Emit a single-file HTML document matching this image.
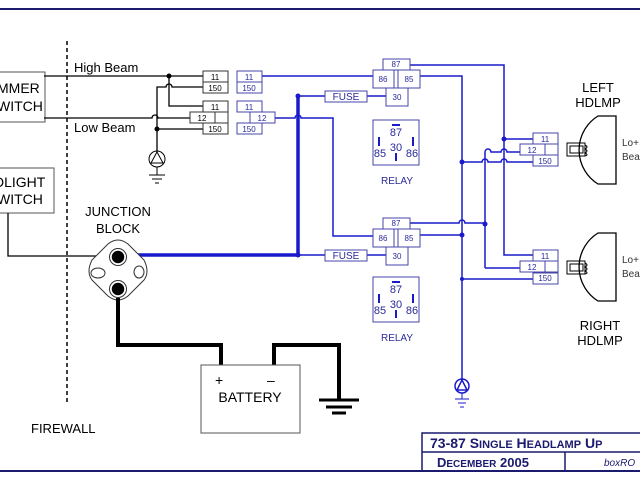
<!DOCTYPE html>
<html><head><style>
body{margin:0;background:#fff;width:640px;height:480px;overflow:hidden}
svg{display:block}
text{font-family:"Liberation Sans",sans-serif}
</style></head><body>
<svg width="640" height="480" viewBox="0 0 640 480" xmlns="http://www.w3.org/2000/svg">
<line x1="0" y1="9" x2="640" y2="9" stroke="#1a1a6e" stroke-width="2"/>
<line x1="0" y1="471" x2="640" y2="471" stroke="#1a1a6e" stroke-width="2"/>
<!-- firewall -->
<line x1="67" y1="41" x2="67" y2="402" stroke="#000" stroke-width="1.5" stroke-dasharray="4,3"/>
<text x="31" y="433" font-size="13">FIREWALL</text>
<!-- switches -->
<rect x="-10" y="72" width="55" height="50" fill="#fff" stroke="#555"/>
<text x="-3" y="93" font-size="14">MMER</text>
<text x="-3" y="111" font-size="14">WITCH</text>
<rect x="-10" y="168" width="64" height="45" fill="#fff" stroke="#555"/>
<text x="-6" y="187" font-size="14">DLIGHT</text>
<text x="-3" y="204" font-size="14">WITCH</text>
<g fill="none" stroke="#000" stroke-width="1.3">
<path d="M8 213 V256 H100"/>
<path d="M44 76 H203"/>
<path d="M44 118 H152 a3 3 0 0 1 6 0 H190"/>
<path d="M169 76 V106 H203"/>
<path d="M203 87 H172 a3 3 0 0 0 -6 0 H157 V152"/>
<path d="M157 129 H203"/>
</g>
<circle cx="169" cy="76" r="2.5"/><circle cx="157" cy="129" r="2.5"/>
<g fill="none" stroke="#000" stroke-width="1">
<circle cx="157" cy="159" r="8"/><path d="M157 152 L151 163 H163 Z"/>
<path d="M157 167 V175 M149 175 H165 M152 179 H162 M155 183 H159"/>
</g>
<text x="74" y="72" font-size="13">High Beam</text>
<text x="74" y="132" font-size="13">Low Beam</text>
<!-- black connectors -->
<g fill="#fff" stroke="#333" stroke-width="1">
<rect x="203" y="71" width="25" height="11"/><rect x="203" y="82" width="25" height="11"/>
<rect x="203" y="101" width="25" height="11"/><rect x="190" y="112" width="38" height="11"/>
<rect x="203" y="123" width="25" height="11"/><line x1="215" y1="112" x2="215" y2="123"/>
</g>
<g font-size="8" text-anchor="middle">
<text x="215" y="80">11</text><text x="215" y="91">150</text><text x="215" y="110">11</text>
<text x="202" y="121">12</text><text x="215" y="132">150</text>
</g>
<!-- blue -->
<g fill="none" stroke="#1a1acc" stroke-width="1.5">
<path d="M262 76 H373"/>
<path d="M275 118 H295 a3 3 0 0 1 6 0 H333 V236 H373"/>
<path d="M298 96 H325 M367 96 H386"/>
<path d="M298 255 H325 M367 255 H386"/>
<path d="M410 65 H504 V255 H533"/>
<path d="M420 76 H462 V380"/>
<path d="M410 223 H459 a3 3 0 0 1 6 0 H485"/>
<path d="M420 235 H462"/>
<path d="M485 268 V152 a3 3 0 0 1 6 0 H501 a3 3 0 0 1 6 0 H520"/>
<path d="M485 268 H520"/>
<path d="M504 139 H533"/>
<path d="M462 162 H482 a3 3 0 0 1 6 0 H501 a3 3 0 0 1 6 0 H533"/>
<path d="M462 279 H533"/>
<circle cx="462" cy="386" r="7"/><path d="M462 380 L457 390 H467 Z"/>
<path d="M462 393 V399 M455 399 H469 M458 403 H466 M460 407 H464" stroke-width="1"/>
</g>
<g stroke="#1a1acc" stroke-width="3.5" fill="none"><path d="M137 255 H298 V96"/></g>
<g fill="#1a1acc"><circle cx="298" cy="96" r="2.5"/><circle cx="298" cy="255" r="2.5"/>
<circle cx="504" cy="139" r="2.5"/><circle cx="462" cy="162" r="2.5"/><circle cx="485" cy="224" r="2.5"/>
<circle cx="462" cy="235" r="2.5"/><circle cx="462" cy="279" r="2"/></g>
<g fill="#fff" stroke="#4444aa" stroke-width="1">
<rect x="237" y="71" width="25" height="11"/><rect x="237" y="82" width="25" height="11"/>
<rect x="237" y="101" width="25" height="11"/><rect x="250" y="112" width="25" height="11"/>
<rect x="237" y="123" width="25" height="11"/><line x1="250" y1="112" x2="250" y2="123"/>
<rect x="325" y="91" width="42" height="11"/><rect x="325" y="250" width="42" height="11"/>
<rect x="383" y="59" width="27" height="11"/><rect x="373" y="70" width="21" height="18"/><rect x="398" y="70" width="22" height="18"/><rect x="386" y="88" width="22" height="18"/>
<rect x="383" y="218" width="27" height="11"/><rect x="373" y="229" width="21" height="18"/><rect x="398" y="229" width="22" height="18"/><rect x="386" y="247" width="22" height="18"/>
<rect x="373" y="120" width="46" height="45"/><rect x="373" y="277" width="46" height="45"/>
<rect x="533" y="133" width="25" height="11"/><rect x="520" y="144" width="38" height="11"/><rect x="533" y="155" width="25" height="11"/><line x1="545" y1="144" x2="545" y2="155"/>
<rect x="533" y="250" width="25" height="11"/><rect x="520" y="261" width="38" height="11"/><rect x="533" y="273" width="25" height="11"/><line x1="545" y1="261" x2="545" y2="272"/>
</g>
<g fill="#2a2a99" font-size="8" text-anchor="middle">
<text x="249" y="80">11</text><text x="249" y="91">150</text><text x="249" y="110">11</text><text x="262" y="121">12</text><text x="249" y="132">150</text>
<text x="396" y="67">87</text><text x="383" y="82">86</text><text x="409" y="82">85</text><text x="397" y="100">30</text>
<text x="396" y="226">87</text><text x="383" y="241">86</text><text x="409" y="241">85</text><text x="397" y="259">30</text>
<text x="545" y="142">11</text><text x="532" y="153">12</text><text x="545" y="164">150</text>
<text x="545" y="259">11</text><text x="532" y="270">12</text><text x="545" y="281">150</text>
<text x="346" y="100" font-size="10">FUSE</text><text x="346" y="259" font-size="10">FUSE</text>
<text x="396" y="136" font-size="11">87</text><text x="396" y="151" font-size="11">30</text><text x="380" y="157" font-size="11">85</text><text x="412" y="157" font-size="11">86</text>
<text x="396" y="293" font-size="11">87</text><text x="396" y="308" font-size="11">30</text><text x="380" y="314" font-size="11">85</text><text x="412" y="314" font-size="11">86</text>
<text x="397" y="184" font-size="10">RELAY</text><text x="397" y="341" font-size="10">RELAY</text>
</g>
<g fill="#1a1acc"><rect x="392" y="124" width="8" height="2"/><rect x="378" y="137" width="2" height="9"/><rect x="412" y="137" width="2" height="9"/><rect x="395" y="153" width="2" height="8"/>
<rect x="392" y="281" width="8" height="2"/><rect x="378" y="294" width="2" height="9"/><rect x="412" y="294" width="2" height="9"/><rect x="395" y="310" width="2" height="8"/></g>
<!-- lamps -->
<g fill="#fff" stroke="#000" stroke-width="1.3">
<path d="M616 116 V184 H598 A40 40 0 0 1 598 116 Z"/>
<path d="M616 233 V301 H598 A40 40 0 0 1 598 233 Z"/>
</g>
<g fill="none" stroke="#000" stroke-width="1">
<rect x="567" y="143" width="18" height="13"/><rect x="570" y="146" width="13" height="7"/><path d="M585 145 q4 2 0 4 q4 2 0 4 q4 2 0 3"/>
<rect x="567" y="261" width="18" height="13"/><rect x="570" y="264" width="13" height="7"/><path d="M585 263 q4 2 0 4 q4 2 0 4 q4 2 0 3"/>
</g>
<g font-size="13" text-anchor="middle"><text x="598" y="92">LEFT</text><text x="598" y="107">HDLMP</text>
<text x="600" y="330">RIGHT</text><text x="600" y="345">HDLMP</text></g>
<g font-size="10" fill="#333"><text x="622" y="146">Lo+</text><text x="622" y="160">Bea</text><text x="622" y="263">Lo+</text><text x="622" y="277">Bea</text></g>
<!-- junction -->
<text x="118" y="216" font-size="13" text-anchor="middle">JUNCTION</text>
<text x="118" y="233" font-size="13" text-anchor="middle">BLOCK</text>
<path d="M108 244 L92 260 Q86 272 92 280 L108 296 Q118 304 128 296 L144 280 Q150 272 144 260 L128 244 Q118 236 108 244 Z" fill="#fff" stroke="#333"/>
<circle cx="118" cy="257" r="7" fill="#000" stroke="#fff" stroke-width="1.5"/><circle cx="118" cy="257" r="8.5" fill="none" stroke="#333"/>
<circle cx="118" cy="289" r="7" fill="#000" stroke="#fff" stroke-width="1.5"/><circle cx="118" cy="289" r="8.5" fill="none" stroke="#333"/>
<ellipse cx="98" cy="273" rx="7" ry="5" fill="none" stroke="#333"/><ellipse cx="139" cy="272" rx="5" ry="6" fill="none" stroke="#333"/>
<!-- battery -->
<g fill="none" stroke="#000" stroke-width="4"><path d="M118 298 V345 H221 V365"/><path d="M274 365 V345 H339 V400"/></g>
<g stroke="#000" stroke-width="3"><line x1="319" y1="400" x2="359" y2="400"/><line x1="326" y1="407" x2="352" y2="407"/><line x1="332" y1="413" x2="346" y2="413"/></g>
<rect x="201" y="365" width="99" height="68" fill="#fff" stroke="#555"/>
<text x="215" y="385" font-size="14">+</text><text x="267" y="385" font-size="14">–</text>
<text x="250" y="402" font-size="14" text-anchor="middle">BATTERY</text>
<!-- title -->
<g fill="none" stroke="#1a1a6e" stroke-width="1.5"><path d="M422 471 V433 H640 M422 452 H640 M565 452 V471"/></g>
<text x="430" y="448" font-size="14" font-weight="bold" fill="#1a1a6e">73-87 S<tspan font-size="11">INGLE</tspan> H<tspan font-size="11">EADLAMP</tspan> U<tspan font-size="11">P</tspan></text>
<text x="437" y="467" font-size="13" font-weight="bold" fill="#1a1a6e">D<tspan font-size="10">ECEMBER</tspan> 2005</text>
<text x="604" y="466" font-size="10" font-style="italic" fill="#1a1a6e">boxRO</text>
</svg>
</body></html>
